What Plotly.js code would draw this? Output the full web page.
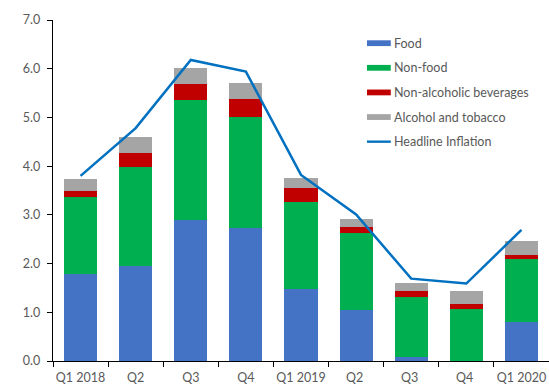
<!DOCTYPE html>
<html>
<head>
<meta charset="utf-8">
<script src="https://cdn.plot.ly/plotly-3.0.1.min.js"></script>
<style>
  html, body { margin: 0; padding: 0; background: #fff; }
  #chart { width: 549px; height: 385px; }
</style>
</head>
<body>
<div id="chart"></div>
<script>
// Quarterly contributions to headline inflation (percentage points)
const quarters = ['Q1 2018', 'Q2', 'Q3', 'Q4', 'Q1 2019', 'Q2 ', 'Q3 ', 'Q4 ', 'Q1 2020'];
const food          = [1.79, 1.96, 2.90, 2.74, 1.47, 1.05, 0.08, 0.00, 0.81];
const nonFood       = [1.57, 2.02, 2.45, 2.26, 1.80, 1.57, 1.24, 1.07, 1.28];
const nonAlcoholic  = [0.13, 0.28, 0.33, 0.37, 0.29, 0.13, 0.12, 0.09, 0.08];
const alcoholTobacco= [0.25, 0.33, 0.34, 0.34, 0.20, 0.17, 0.17, 0.28, 0.29];
const headline      = [3.80, 4.78, 6.18, 5.94, 3.82, 3.01, 1.69, 1.59, 2.69];
const yTicks        = [0, 1, 2, 3, 4, 5, 6, 7];

const FONT = 'Lato, "Open Sans", sans-serif';
const TEXT = '#595959';

const series = [
  { name: 'Food',                    y: food,           color: '#4472C4' },
  { name: 'Non-food',                y: nonFood,        color: '#00B050' },
  { name: 'Non-alcoholic beverages', y: nonAlcoholic,   color: '#C00000' },
  { name: 'Alcohol and tobacco',     y: alcoholTobacco, color: '#A5A5A5' }
];
const lineSeries = { name: 'Headline Inflation', y: headline, color: '#0070C0' };

const traces = series.map(s => ({
  type: 'bar', name: s.name, x: quarters, y: s.y,
  marker: { color: s.color, line: { width: 0 } },
  hoverinfo: 'x+y+name'
}));
traces.push({
  type: 'scatter', mode: 'lines', name: lineSeries.name,
  x: quarters, y: lineSeries.y,
  line: { color: lineSeries.color, width: 2.5 }
});

// Hand-built key: wide thin swatches with labels to their right
const keyX0 = 0.633, keyX1 = 0.681, keyTop = 0.932, keyStep = 0.0722;
const keyItems = series.map(s => ({ name: s.name, color: s.color, h: 0.0085 }))
  .concat([{ name: lineSeries.name, color: lineSeries.color, h: 0.0035 }]);
const shapes = [], annotations = [];
keyItems.forEach((k, i) => {
  const yc = keyTop - i * keyStep;
  shapes.push({
    type: 'rect', xref: 'paper', yref: 'paper',
    x0: keyX0, x1: keyX1, y0: yc - k.h, y1: yc + k.h,
    fillcolor: k.color, line: { width: 0 }
  });
  annotations.push({
    xref: 'paper', yref: 'paper', x: keyX1 + 0.002, y: yc,
    xanchor: 'left', yanchor: 'middle', showarrow: false,
    text: k.name, font: { family: FONT, size: 12.5, color: TEXT }
  });
});

const layout = {
  width: 549, height: 385,
  margin: { l: 53, r: 0, t: 20, b: 24 },
  paper_bgcolor: '#ffffff', plot_bgcolor: '#ffffff',
  barmode: 'stack', bargap: 0.4,
  showlegend: false,
  font: { family: FONT, size: 12.5, color: TEXT },
  xaxis: {
    type: 'category', tickson: 'boundaries', tickangle: 0,
    showline: true, linecolor: '#000000', linewidth: 1.3,
    ticks: 'outside', ticklen: 5, tickcolor: '#000000', tickwidth: 1,
    ticklabelstandoff: 5,
    showgrid: false, zeroline: false,
    tickfont: { family: FONT, size: 12.5, color: TEXT }
  },
  yaxis: {
    range: [0, 7], tickvals: yTicks, tickformat: '.1f',
    showline: true, linecolor: '#000000', linewidth: 1.3,
    ticks: 'outside', ticklen: 5, tickcolor: '#000000', tickwidth: 1,
    ticklabelstandoff: 4,
    showgrid: false, zeroline: false,
    tickfont: { family: FONT, size: 12.5, color: TEXT }
  },
  shapes: shapes,
  annotations: annotations
};

Plotly.newPlot('chart', traces, layout, { displayModeBar: false, staticPlot: true });
</script>
</body>
</html>
